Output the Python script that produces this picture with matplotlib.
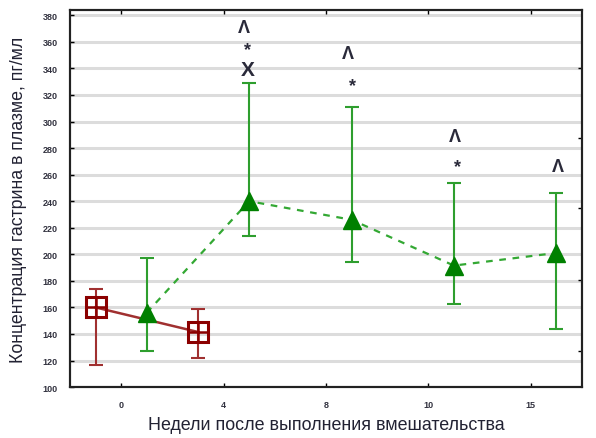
import matplotlib
matplotlib.use("Agg")
import matplotlib.pyplot as plt

plt.rcParams['font.family'] = ['Liberation Sans', 'DejaVu Sans']

# data
ctrl_x = [-1, 3]
ctrl_y = [160, 141.5]
ctrl_lo = [116.5, 122]
ctrl_hi = [173.5, 158.5]

trt_x = [1, 5, 9, 13, 17]
trt_y = [156, 240, 226, 191.5, 201]
trt_lo = [127, 214, 194.5, 162.5, 143.5]
trt_hi = [197, 329, 311, 254, 246.5]

xtick_pos = [0, 4, 8, 12, 16]
xtick_labels = ["0", "4", "8", "10", "15"]
ytick_vals = list(range(100, 381, 20))

# annotations: (x, y, text)
ann_x = [4.8, 4.95, 4.95, 8.85, 9.05, 13.05, 13.15, 17.05]
ann_y = [371, 354, 339, 351, 327, 289, 266, 266]
ann_t = ["Λ", "*", "X", "Λ", "*", "Λ", "*", "Λ"]
ann_fs = {"Λ": 13, "*": 13, "X": 15}

fig = plt.figure(figsize=(5.96, 4.39), dpi=100)
ax = fig.add_axes([0.1174, 0.116, 0.859, 0.859])

ax.set_xlim(-2, 18)
ax.set_ylim(100, 384)

for v in ytick_vals:
    ax.axhline(v, color='#dcdcdc', lw=2.2, zorder=0)

green_line = '#2e9e2e'
green_fill = '#008000'
red = '#8b0000'

# treatment errorbars
yerr_t = [[y - l for y, l in zip(trt_y, trt_lo)], [h - y for y, h in zip(trt_y, trt_hi)]]
ax.errorbar(trt_x, trt_y, yerr=yerr_t, fmt='none', ecolor=green_line, elinewidth=1.5,
            capsize=5, capthick=1.5, zorder=2)
ax.plot(trt_x, trt_y, linestyle=(0, (3, 3)), color='#33a833', lw=1.6, zorder=2)
ax.plot(trt_x, trt_y, linestyle='none', marker='^', markersize=13,
        markerfacecolor=green_fill, markeredgecolor=green_fill, zorder=3)

# control
yerr_c = [[y - l for y, l in zip(ctrl_y, ctrl_lo)], [h - y for y, h in zip(ctrl_y, ctrl_hi)]]
ax.errorbar(ctrl_x, ctrl_y, yerr=yerr_c, fmt='none', ecolor='#a03030', elinewidth=1.5,
            capsize=5, capthick=1.5, zorder=2)
ax.plot(ctrl_x, ctrl_y, color='#a03030', lw=1.8, zorder=2)
ax.plot(ctrl_x, ctrl_y, linestyle='none', marker='s', markersize=15,
        markerfacecolor='none', markeredgecolor=red, markeredgewidth=2.2, zorder=4)
ax.plot(ctrl_x, ctrl_y, linestyle='none', marker='+', markersize=15,
        markeredgecolor=red, markeredgewidth=1.8, zorder=4)

for x, y, t in zip(ann_x, ann_y, ann_t):
    ax.text(x, y, t, ha='center', va='center', fontsize=ann_fs[t], color='#2a2a3a',
            fontweight='bold', zorder=5)

ax.set_xticks(xtick_pos)
ax.set_xticklabels(xtick_labels)
ax.set_yticks(ytick_vals)
ax.set_yticklabels([str(v) for v in ytick_vals])
ax.tick_params(axis='both', direction='in', length=3, width=1, labelsize=6.5,
               top=True, right=False, colors='black')
for lab in ax.get_xticklabels() + ax.get_yticklabels():
    lab.set_fontweight('bold')
    lab.set_color('#333340')
ax.tick_params(axis='x', pad=9)
ax.tick_params(axis='y', pad=9)

# right-side ticks
ax2 = ax.twinx()
ax2.set_ylim(100, 384)
ax2.set_yticks([340, 287.5, 235, 181, 127])
ax2.set_yticklabels([])
ax2.tick_params(axis='y', direction='in', length=3, width=1)

for sp in list(ax.spines.values()) + list(ax2.spines.values()):
    sp.set_linewidth(1.5)
    sp.set_color('#222222')

ax.set_xlabel("Недели после выполнения вмешательства", fontsize=12.9, color='#222233', labelpad=5)
ax.set_ylabel("Концентрация гастрина в плазме, пг/мл", fontsize=12.8, color='#222233', labelpad=11)

fig.savefig("out.png", dpi=100)
